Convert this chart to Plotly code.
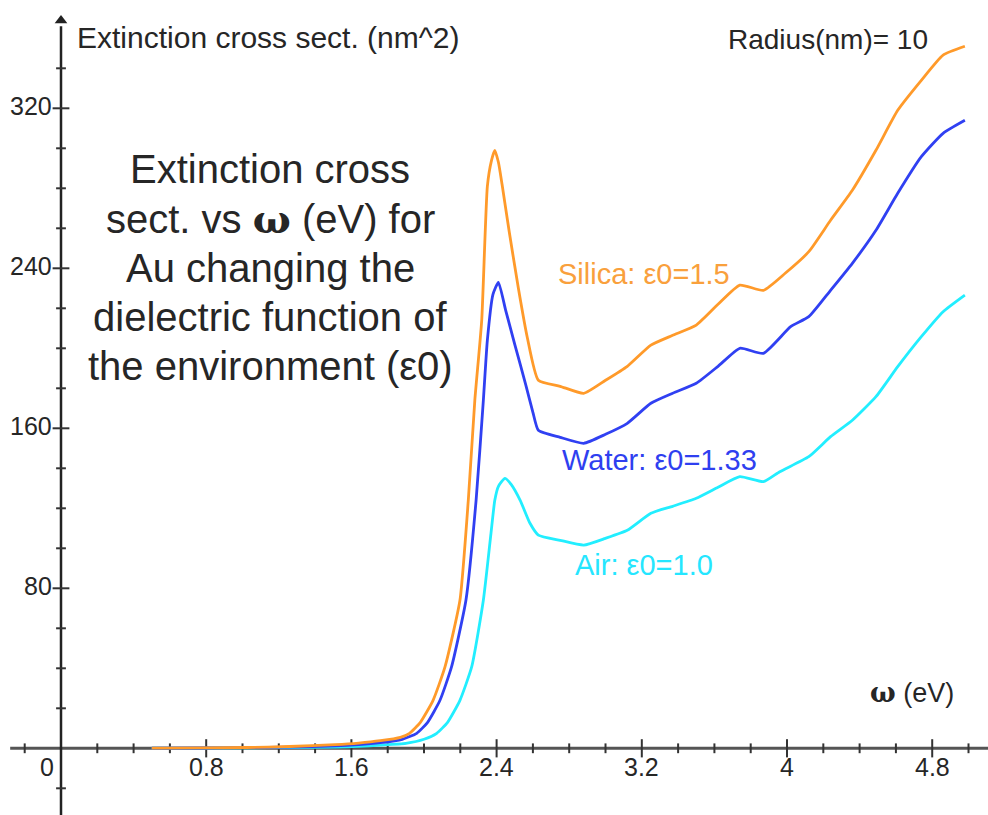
import plotly.graph_objects as go

# ---------------- data ----------------
energy_silica = [0.50, 0.77, 1.02, 1.26, 1.51, 1.64, 1.76, 1.87, 1.92, 1.98, 2.05, 2.116, 2.198,
                 2.244, 2.28, 2.318, 2.349, 2.372, 2.39, 2.41, 2.43, 2.47, 2.52, 2.57, 2.63, 2.75,
                 2.88, 3.00, 3.12, 3.25, 3.37, 3.50, 3.62, 3.74, 3.87, 3.99, 4.12, 4.24, 4.36,
                 4.49, 4.61, 4.74, 4.86, 4.98]
ext_silica = [0.1, 0.2, 0.4, 0.9, 1.8, 2.6, 3.8, 5.5, 7.5, 13, 24, 40.8, 74,
              124, 174, 214, 281, 294, 299, 293, 282, 258, 230, 205, 184, 181,
              177.5, 184, 191, 201.6, 206.5, 211.6, 222, 231.6, 229, 237.5, 248.3, 264, 279,
              299, 319, 334, 346.6, 351]

energy_water = [0.50, 0.77, 1.02, 1.26, 1.51, 1.64, 1.76, 1.88, 1.96, 2.02, 2.088, 2.152, 2.231,
                2.287, 2.327, 2.349, 2.38, 2.41, 2.45, 2.50, 2.56, 2.60, 2.63, 2.75, 2.88, 3.00,
                3.12, 3.25, 3.37, 3.50, 3.62, 3.74, 3.87, 4.02, 4.12, 4.24, 4.36, 4.49, 4.61,
                4.74, 4.86, 4.98]
ext_water = [0.1, 0.15, 0.3, 0.6, 1.2, 1.8, 2.8, 4.5, 7.5, 13, 24, 40.8, 74,
             124, 174, 204, 227, 233, 219, 202, 182, 168, 159, 155.5, 152.5, 157,
             162.5, 172.5, 177.5, 182.5, 191, 200, 197.5, 210.8, 215.8, 229, 242.5, 259, 277.5,
             295.8, 307.5, 314]

energy_air = [0.50, 0.77, 1.02, 1.26, 1.51, 1.64, 1.76, 1.90, 2.00, 2.07, 2.13, 2.198, 2.263,
              2.327, 2.369, 2.39, 2.41, 2.446, 2.48, 2.53, 2.584, 2.63, 2.75, 2.88, 3.00, 3.12,
              3.25, 3.37, 3.50, 3.62, 3.74, 3.87, 3.96, 4.12, 4.24, 4.36, 4.49, 4.61, 4.74,
              4.86, 4.98]
ext_air = [0.05, 0.1, 0.2, 0.4, 0.6, 1.0, 1.6, 2.5, 4.5, 7.5, 13, 24, 40.8,
           74, 107.5, 124, 131, 135, 132, 124, 112.5, 106.6, 104, 101.6, 105, 109,
           117.5, 121, 125, 130.5, 135.8, 133.3, 138.3, 145.8, 155.8, 164, 175.8, 190.8, 205.8,
           218.3, 226.6]

series_names = ["Silica: ε0=1.5", "Water: ε0=1.33", "Air: ε0=1.0"]

x_major_ticks = [0.8, 1.6, 2.4, 3.2, 4.0, 4.8]
x_major_labels = ["0.8", "1.6", "2.4", "3.2", "4", "4.8"]
x_minor_ticks = [-0.2, 0.2, 0.4, 0.6, 1.0, 1.2, 1.4, 1.8, 2.0, 2.2, 2.6, 2.8, 3.0,
                 3.4, 3.6, 3.8, 4.2, 4.4, 4.6, 5.0]
y_major_ticks = [80, 160, 240, 320]
y_major_labels = ["80", "160", "240", "320"]
y_minor_ticks = [-20, 20, 40, 60, 100, 120, 140, 180, 200, 220, 260, 280, 300, 340]

title_lines = ["Extinction cross",
               "sect. vs <span style='font-family:DejaVu Serif'><b>ω</b></span> (eV) for",
               "Au changing the",
               "dielectric function of",
               "the environment (ε0)"]

# ---------------- styling ----------------
X_RANGE = [-0.3361, 5.1074]
Y_RANGE = [-33.35, 374.15]
FONT = "Liberation Sans, Arial, sans-serif"
TXT = "#262626"
C_SILICA = "#FF9A2A"
C_WATER = "#3040F2"
C_AIR = "#22EEFF"

fig = go.Figure()

# tick marks
fig.add_trace(go.Scatter(x=x_major_ticks, y=[0] * len(x_major_ticks), mode="markers",
                         marker=dict(symbol="line-ns", size=13, line=dict(width=2, color="#333")),
                         hoverinfo="skip"))
fig.add_trace(go.Scatter(x=x_minor_ticks, y=[0] * len(x_minor_ticks), mode="markers",
                         marker=dict(symbol="line-ns", size=7, line=dict(width=2, color="#333")),
                         hoverinfo="skip"))
fig.add_trace(go.Scatter(x=[0] * len(y_major_ticks), y=y_major_ticks, mode="markers",
                         marker=dict(symbol="line-ew", size=12, line=dict(width=2, color="#333")),
                         hoverinfo="skip"))
fig.add_trace(go.Scatter(x=[0] * len(y_minor_ticks), y=y_minor_ticks, mode="markers",
                         marker=dict(symbol="line-ew", size=7, line=dict(width=2, color="#333")),
                         hoverinfo="skip"))
# arrow head of y axis
fig.add_trace(go.Scatter(x=[0], y=[363.9], mode="markers",
                         marker=dict(symbol="triangle-up", size=11, color="#222"),
                         hoverinfo="skip"))

# curves
for xs, ys, col in [(energy_air, ext_air, C_AIR),
                    (energy_water, ext_water, C_WATER),
                    (energy_silica, ext_silica, C_SILICA)]:
    fig.add_trace(go.Scatter(x=xs, y=ys, mode="lines",
                             line=dict(color=col, width=2.8, shape="spline", smoothing=0.5),
                             hoverinfo="skip"))

# axis lines
fig.add_shape(type="line", x0=-0.28, x1=5.2, y0=0, y1=0, xref="x", yref="y",
              line=dict(color="#555", width=3), layer="below")
fig.add_shape(type="line", x0=0, x1=0, y0=-40, y1=361, xref="x", yref="y",
              line=dict(color="#222", width=2.5), layer="below")

ann = []
# tick labels
for v, lab in zip(x_major_ticks, x_major_labels):
    ann.append(dict(x=v, y=-9.5, text=lab, xanchor="center", yanchor="middle"))
ann.append(dict(x=-0.079, y=-9.5, text="0", xanchor="center", yanchor="middle"))
for v, lab in zip(y_major_ticks, y_major_labels):
    ann.append(dict(x=-0.04, y=v + 1, text=lab, xanchor="right", yanchor="middle"))
for a in ann:
    a.update(showarrow=False, font=dict(family=FONT, size=25, color=TXT))

# axis titles and notes
ann.append(dict(x=0.075, y=355.2, text="Extinction cross sect. (nm^2)", xanchor="left",
                yanchor="middle", showarrow=False, font=dict(family=FONT, size=30, color=TXT)))
ann.append(dict(x=4.79, y=354.4, text="Radius(nm)= 10", xanchor="right",
                yanchor="middle", showarrow=False, font=dict(family=FONT, size=28, color=TXT)))
ann.append(dict(x=4.691, y=27.8, text="<span style='font-family:DejaVu Serif'><b>ω</b></span> (eV)",
                xanchor="center", yanchor="middle", showarrow=False,
                font=dict(family=FONT, size=27, color=TXT)))

# big description text, one line per annotation
for i, line in enumerate(title_lines):
    ann.append(dict(x=1.152, y=289.45 - 24.6 * i, text=line, xanchor="center", yanchor="middle",
                    showarrow=False, font=dict(family=FONT, size=40, color=TXT)))

# series labels
for name, (lx, ly), col in zip(series_names,
                               [(3.212, 237.2), (3.30, 144.0), (3.212, 91.6)],
                               ["#F9A03C", "#2F3FF0", "#25E6FF"]):
    ann.append(dict(x=lx, y=ly, text=name, xanchor="center", yanchor="middle", showarrow=False,
                    font=dict(family=FONT, size=29, color=col)))

fig.update_layout(
    width=988, height=815,
    margin=dict(l=0, r=0, t=0, b=0),
    paper_bgcolor="white", plot_bgcolor="white",
    showlegend=False,
    xaxis=dict(range=X_RANGE, visible=False, fixedrange=True),
    yaxis=dict(range=Y_RANGE, visible=False, fixedrange=True),
    annotations=ann,
)

fig.write_html("out.html")
